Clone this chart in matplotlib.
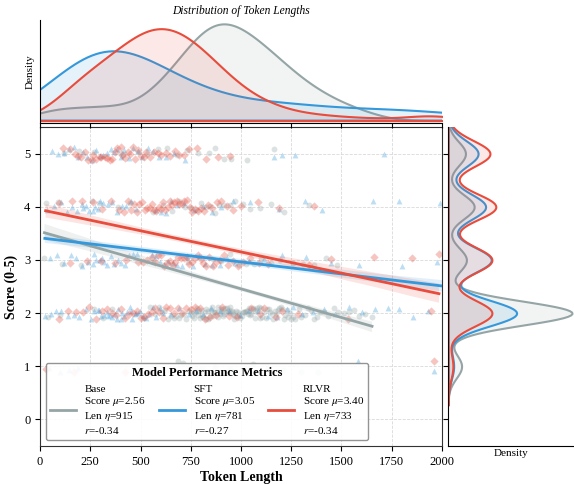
import matplotlib
matplotlib.use("Agg")
import matplotlib.pyplot as plt
from matplotlib.lines import Line2D
import numpy as np
import seaborn as sns

plt.rcParams["font.family"] = ["Liberation Serif", "DejaVu Serif"]
plt.rcParams["mathtext.fontset"] = "stix"

models = ["Base", "SFT", "RLVR"]
colors = ["#95a5a6", "#3498db", "#e74c3c"]
markers = ["o", "^", "D"]
score_mean = [2.56, 3.05, 3.40]
len_median = [915, 781, 733]
r_value = [-0.34, -0.27, -0.34]

# token lengths per score
base_len = {
    5: [118, 196, 271, 402, 412, 489, 533, 588, 634, 684, 731, 788, 843, 872, 917, 948,
        1031, 1162],
    4: [31, 92, 258, 296, 387, 447, 563, 612, 658, 694, 722, 751, 779, 803, 826, 848,
        871, 893, 917, 944, 972, 1008, 1046, 1093, 1148, 1214, 1336],
    3: [22, 108, 206, 563, 738, 861, 902, 947, 988, 1026, 1063, 1102, 1147, 1196, 1258, 1307,
        1364, 1421, 1478],
    2: [41, 97, 268, 314, 356, 517, 546, 571, 594, 608, 623, 637, 651, 666, 678,
        692, 703, 717, 728, 742, 753, 757, 765, 768, 776, 780, 787, 792, 796, 803, 808, 812, 819,
        824, 828, 835, 838, 845, 849, 856, 861, 865, 873, 876, 884, 887, 894, 899, 902, 908, 911,
        917, 920, 926, 929, 935, 939, 944, 947, 953, 958, 961, 967, 970, 976, 979, 985, 988, 997,
        1003, 1010, 1013, 1021, 1024, 1031, 1036, 1040, 1047, 1050, 1058, 1061, 1068, 1072, 1079,
        1082, 1090, 1093, 1098, 1107, 1112, 1122, 1127, 1137, 1142, 1152, 1157, 1167, 1172, 1182,
        1187, 1197, 1202, 1212, 1217, 1227, 1232, 1242, 1247, 1258, 1271, 1288, 1301, 1318, 1331,
        1348, 1361, 1378, 1393, 1412, 1435, 1463, 1484, 1513, 1536, 1564, 1587, 1618, 1652],
    1: [642, 688, 713, 741, 779, 806, 832, 871, 944, 1061, 1132, 1208, 1297, 1382],
}
sft_len = {
    5: [58, 92, 121, 143, 167, 189, 212, 236, 261, 279, 298, 314, 333, 351, 368, 384, 402, 419,
        441, 463, 487, 509, 538, 561, 594, 627, 668, 721, 1163, 1204, 1271, 1712],
    4: [36, 71, 104, 133, 158, 184, 207, 212, 231, 243, 262, 273, 288, 298, 311, 337, 359, 382,
        406, 428, 452, 477, 577, 603, 629, 652, 681, 714, 768, 812, 857, 903, 958, 1044, 1187,
        1318, 1403, 1658, 1784, 1991],
    3: [48, 87, 119, 152, 181, 209, 238, 263, 271, 281, 297, 306, 316, 334, 352, 369, 387, 405,
        424, 443, 461, 482, 556, 578, 597, 618, 639, 661, 684, 708, 733, 762, 791, 823, 856, 894,
        931, 972, 1038, 1116, 1204, 1322, 1447, 1586, 1803, 1973],
    2: [24, 53, 79, 106, 138, 167, 195, 228, 256, 271, 287, 296, 302, 318, 331, 339,
        346, 360, 374, 381, 389, 403, 410, 417, 431, 446, 452, 459, 472, 479, 486, 498, 512, 527,
        543, 561, 578, 596, 613, 652, 693, 739, 776, 813, 851, 894, 941, 996, 1041, 1087, 1132,
        1179, 1228, 1261, 1306, 1357, 1412, 1468, 1537, 1603, 1668, 1729, 1784, 1858, 1931, 2080,
        2140, 2210, 2350, 2460, 2520, 2710, 2930],
    1: [46, 98, 143, 187, 1583, 1962],
}
rlvr_len = {
    5: [112, 148, 175, 188, 204, 226, 241, 258, 263, 281, 297, 304, 322, 331, 349, 356, 372, 384,
        401, 408, 423, 437, 446, 461, 472, 488, 503, 519, 527, 548, 566, 587, 603, 628, 646, 671,
        694, 718, 742, 779, 826, 884, 947],
    4: [95, 160, 210, 265, 310, 355, 392, 418, 436, 451, 467, 483, 495, 508, 521, 534, 547, 556,
        568, 579, 591, 603, 612, 624, 637, 645, 658, 669, 681, 694, 706, 718, 731, 745, 758, 772,
        786, 801, 818, 836, 857, 879, 903, 931, 962, 998, 1085, 1190, 1362],
    3: [148, 236, 305, 372, 430, 487, 512, 534, 556, 571, 589, 604, 618, 633, 647, 661, 674, 688,
        703, 716, 729, 743, 758, 771, 785, 799, 812, 828, 843, 861, 878, 896, 915, 936, 958, 983,
        1012, 1047, 1088, 1136, 1338, 1446, 1662, 1851, 1985],
    2: [96, 138, 177, 214, 246, 279, 306, 331, 356, 379, 401, 423, 444, 463, 482, 501, 519, 538,
        556, 574, 593, 611, 629, 648, 667, 686, 706, 727, 749, 772, 796, 821, 848, 876, 907, 941,
        978, 1052, 1093, 1112, 1173, 1204, 1283, 1534, 1947],
    1: [28, 168, 424, 551, 1962],
}
all_len = [base_len, sft_len, rlvr_len]


def flatten(d):
    xs, ys = [], []
    for score, vals in d.items():
        xs += vals
        ys += [score] * len(vals)
    return np.array(xs, float), np.array(ys, float)


data = [flatten(d) for d in all_len]

fig = plt.figure(figsize=(5.74, 4.84), dpi=100)
ax = fig.add_axes([0.0697, 0.0785, 0.7003, 0.659])
ax_top = fig.add_axes([0.0697, 0.7459, 0.7003, 0.2128], sharex=ax)
ax_right = fig.add_axes([0.7805, 0.0785, 0.2195, 0.659], sharey=ax)

# scatter first, regression lines on top
np.random.seed(0)
for (x, y), c, m in zip(data, colors, markers):
    sns.regplot(x=x, y=y, ax=ax, fit_reg=False, y_jitter=0.12, marker=m, color=c,
                scatter_kws=dict(s=18, alpha=0.32, linewidths=0))
for (x, y), c in zip(data, colors):
    sns.regplot(x=x, y=y, ax=ax, scatter=False, color=c, ci=50, seed=0,
                line_kws=dict(lw=2))

# marginal densities
for (x, y), c in zip(data, colors):
    sns.kdeplot(x=x, ax=ax_top, color=c, fill=True, alpha=0.12, linewidth=1.5)
    sns.kdeplot(y=y, ax=ax_right, color=c, fill=True, alpha=0.12, linewidth=1.5, bw_adjust=0.6)

ax.set_xlim(0, 2000)
ax.set_ylim(-0.5, 5.5)
ax.set_xticks(np.arange(0, 2001, 250))
ax.set_yticks(range(6))
ax.grid(True, ls="--", lw=0.6, color="#d9d9d9")
ax.set_axisbelow(True)
ax.tick_params(labelsize=9, direction="out", length=3.5)
ax.set_xlabel("Token Length", fontsize=10, fontweight="bold", labelpad=2)
ax.set_ylabel("Score (0-5)", fontsize=10, fontweight="bold", labelpad=4)
for s in ax.spines.values():
    s.set_color("#333333")

peak = ax_top.dataLim.ymax
ax_top.set_ylim(-0.025 * peak, 1.04 * peak)
ax_top.tick_params(axis="x", labelbottom=False, direction="out", length=3.5)
ax_top.tick_params(axis="y", left=False, labelleft=False)
ax_top.spines[["top", "right"]].set_visible(False)
ax_top.set_ylabel("Density", fontsize=8)
ax_top.set_xlabel("")
ax_top.set_title("Distribution of Token Lengths", fontsize=8.3, style="italic", pad=4)

peak = ax_right.dataLim.xmax
ax_right.set_xlim(0, 1.016 * peak)
ax_right.tick_params(axis="y", labelleft=False, direction="out", length=3.5)
ax_right.tick_params(axis="x", bottom=False, labelbottom=False)
ax_right.spines[["top", "right"]].set_visible(False)
ax_right.set_xlabel("Density", fontsize=8, labelpad=2)
ax_right.set_ylabel("")

handles = [Line2D([0], [0], color=c, lw=2) for c in colors]
labels = [f"{n}\nScore $\\mu$={mu:.2f}\nLen $\\eta$={md}\n$r$={r:.2f}"
          for n, mu, md, r in zip(models, score_mean, len_median, r_value)]
ax.legend(handles, labels, loc="lower left", ncol=3, fontsize=8,
          title="Model Performance Metrics",
          title_fontproperties=dict(weight="bold", size=9),
          frameon=True, framealpha=0.9, edgecolor="#888888",
          handlelength=2.3, columnspacing=1.2, borderaxespad=0.5)

fig.savefig("out.png", dpi=100)
